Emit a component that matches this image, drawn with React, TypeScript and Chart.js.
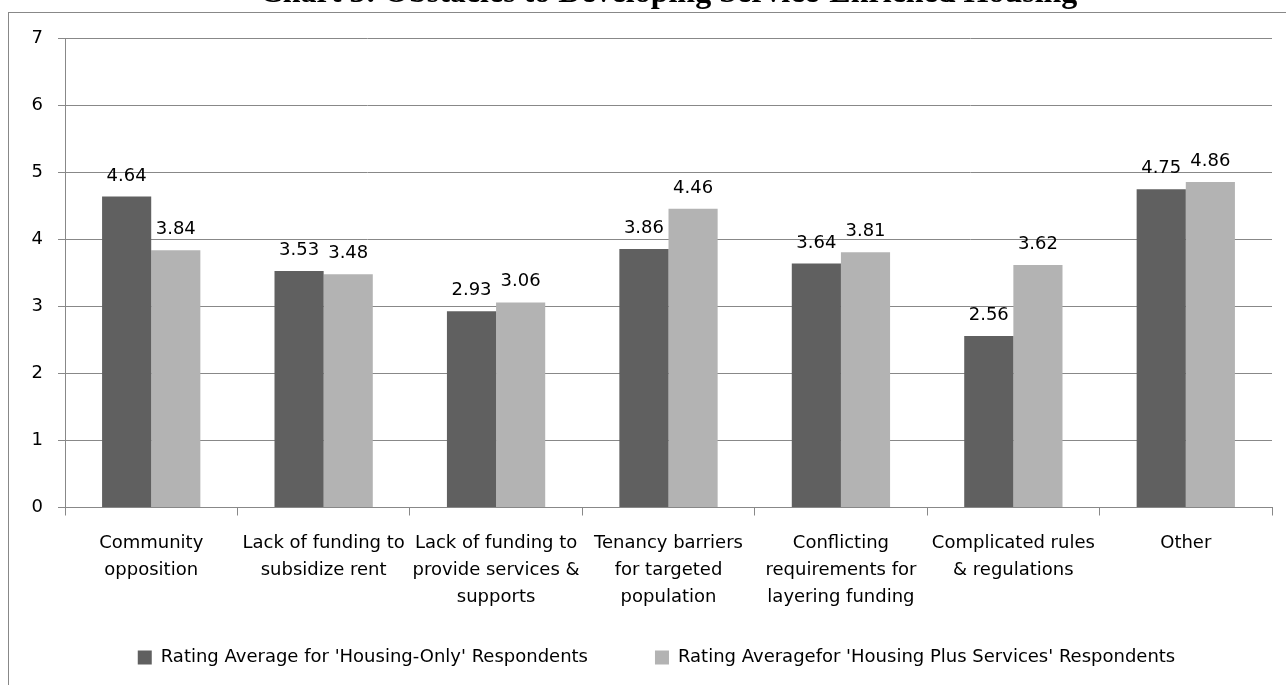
import React, { useEffect, useRef } from "react";
import { Chart, registerables } from "chart.js";

Chart.register(...registerables);

const titleText = "Chart 3: Obstacles to Developing Service-Enriched Housing";
const categories: string[][] = [
  ["Community", "opposition"],
  ["Lack of funding to", "subsidize rent"],
  ["Lack of funding to", "provide services &", "supports"],
  ["Tenancy barriers", "for targeted", "population"],
  ["Conflicting", "requirements for", "layering funding"],
  ["Complicated rules", "& regulations"],
  ["Other"],
];
const seriesNames = [
  "Rating Average for 'Housing-Only' Respondents",
  "Rating Averagefor 'Housing Plus Services' Respondents",
];
const housingOnly = [4.64, 3.53, 2.93, 3.86, 3.64, 2.56, 4.75];
const housingPlus = [3.84, 3.48, 3.06, 4.46, 3.81, 3.62, 4.86];
const yMin = 0;
const yMax = 7;
const yStep = 1;

const FONT = "'DejaVu Sans'";
const GRID = "#888888";
const LEGEND_DX = 8;
const LEGEND_DY = -43;

const valueLabels = {
  id: "valueLabels",
  afterDatasetsDraw(chart: any) {
    const ctx = chart.ctx;
    ctx.save();
    ctx.font = `18px ${FONT}`;
    ctx.fillStyle = "#000";
    ctx.textAlign = "center";
    ctx.textBaseline = "alphabetic";
    chart.data.datasets.forEach((ds: any, i: number) => {
      const meta = chart.getDatasetMeta(i);
      meta.data.forEach((bar: any, j: number) => {
        ctx.fillText(Number(ds.data[j]).toFixed(2), bar.x, bar.y - 16);
      });
    });
    ctx.restore();
  },
};

const legendOffset = {
  id: "legendOffset",
  afterLayout(chart: any) {
    const lg = chart.legend;
    if (!lg) return;
    lg.top += LEGEND_DY;
    lg.bottom += LEGEND_DY;
    lg.left += LEGEND_DX;
    lg.right += LEGEND_DX;
  },
};

export default function App() {
  const ref = useRef<HTMLCanvasElement | null>(null);

  useEffect(() => {
    if (!ref.current) return;
    const chart = new Chart(ref.current, {
      type: "bar",
      data: {
        labels: categories,
        datasets: [
          {
            label: seriesNames[0],
            data: housingOnly,
            backgroundColor: "#606060",
            borderWidth: 0,
            categoryPercentage: 0.57,
            barPercentage: 1,
          },
          {
            label: seriesNames[1],
            data: housingPlus,
            backgroundColor: "#b3b3b3",
            borderWidth: 0,
            categoryPercentage: 0.57,
            barPercentage: 1,
          },
        ],
      },
      options: {
        responsive: false,
        animation: false,
        layout: { padding: { left: 25, right: 14, top: 0, bottom: 4.5 } },
        plugins: {
          tooltip: { enabled: false },
          title: {
            display: true,
            fullSize: false,
            text: titleText,
            color: "#000",
            font: { family: "'Liberation Serif'", size: 32, weight: "bold", lineHeight: 1.2 },
            padding: { top: 0, bottom: 25.1 },
          },
          legend: {
            position: "bottom",
            labels: {
              boxWidth: 14,
              boxHeight: 14,
              padding: 67,
              color: "#000",
              font: { family: FONT, size: 18 },
            },
          },
        },
        scales: {
          x: {
            grid: { display: true, drawOnChartArea: false, tickLength: 8, color: GRID },
            border: { color: GRID },
            ticks: {
              color: "#000",
              font: { family: FONT, size: 18, lineHeight: 1.5 },
              padding: 14,
              maxRotation: 0,
              minRotation: 0,
              autoSkip: false,
            },
          },
          y: {
            min: yMin,
            max: yMax,
            grid: { color: GRID, tickLength: 7 },
            border: { color: GRID },
            ticks: {
              stepSize: yStep,
              color: "#000",
              font: { family: FONT, size: 18 },
              padding: 15,
            },
            afterFit: (scale: any) => {
              scale.width = 40;
            },
          },
        },
      },
      plugins: [valueLabels, legendOffset],
    });
    return () => chart.destroy();
  }, []);

  return (
    <div
      style={{
        position: "fixed",
        left: 0,
        top: 0,
        width: 1286,
        height: 685,
        overflow: "hidden",
        background: "#fff",
      }}
    >
      <div
        style={{
          position: "absolute",
          left: 8,
          top: 12,
          width: 1400,
          height: 800,
          border: "1px solid #888888",
        }}
      />
      <canvas
        ref={ref}
        width={1286}
        height={749}
        style={{ position: "absolute", left: 0, top: -25, width: 1286, height: 749 }}
      />
    </div>
  );
}
